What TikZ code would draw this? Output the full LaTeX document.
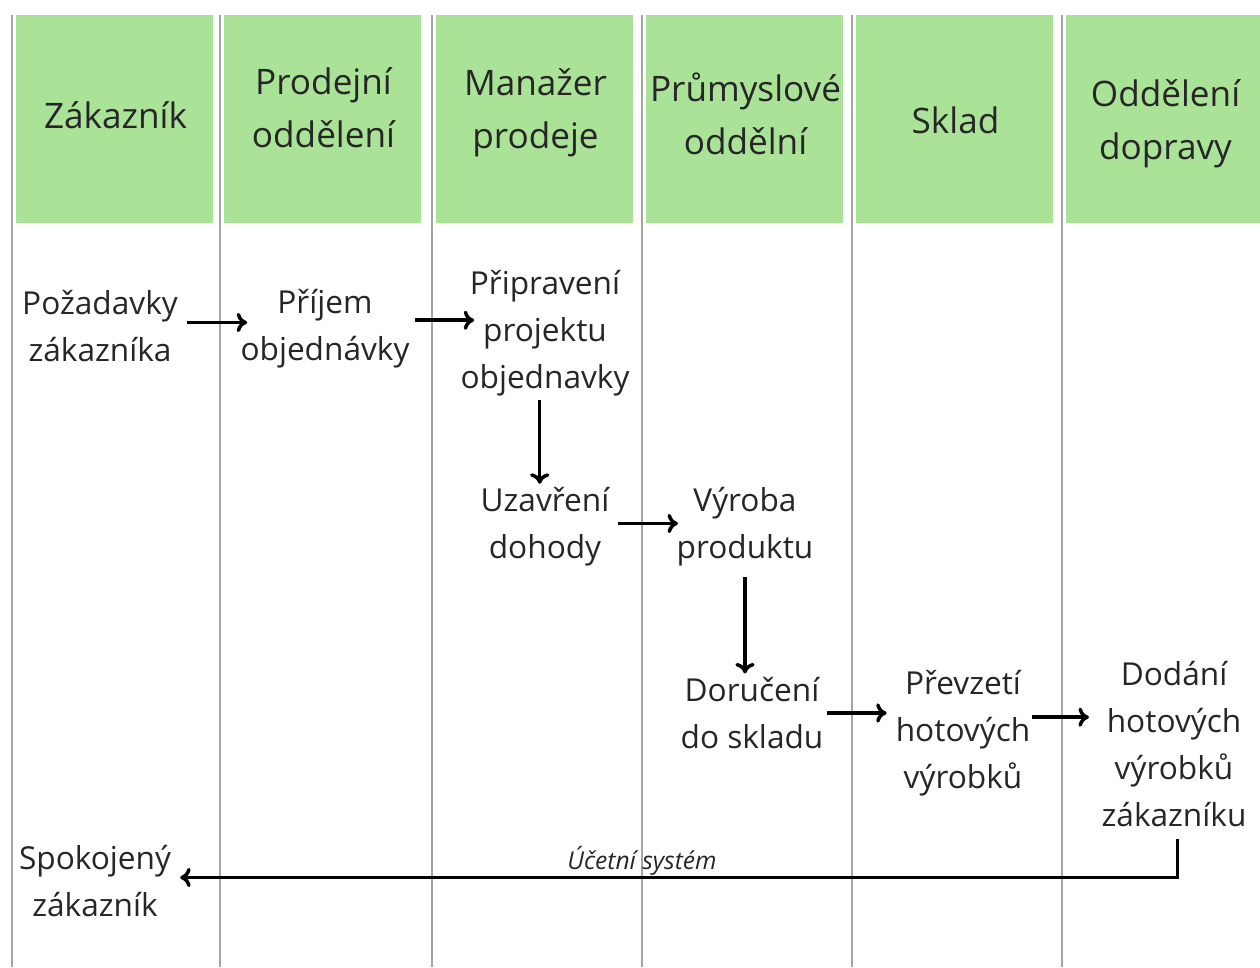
\documentclass[tikz,border=0pt]{standalone}
\usepackage{fontspec}
\setmainfont{Open Sans}
\usetikzlibrary{positioning,arrows.meta}

\definecolor{headgreen}{HTML}{AAE397}
\definecolor{lanegray}{HTML}{A4A4A4}
\definecolor{inkgray}{HTML}{262626}

\tikzset{
  lanelabel/.style={align=center, inner sep=0pt, text=inkgray,
    font=\fontsize{20}{30}\selectfont},
  laneline/.style={draw=lanegray, line width=1.1pt},
  task/.style={align=center, inner sep=2pt, text=inkgray,
    font=\fontsize{18}{26.7}\selectfont},
  flow/.style={-{To[length=6pt,width=11pt]}, line width=2pt},
}

\begin{document}
\begin{tikzpicture}[x=0.02cm,y=-0.02cm]
      \useasboundingbox (0,0) rectangle (1260,967);
      % swimlanes
      \foreach \x/\y/\t [count=\i] in {12/115/{Zákazník}, 220/108/{Prodejní\\oddělení},
          432/113/{Manažer\\prodeje}, 642/114/{Průmyslové\\oddělní}, 852/120/{Sklad},
          1062/124/{Oddělení\\dopravy}} {
        \draw[laneline] (\x,15) -- (\x,967);
        \fill[headgreen] (\x+4,15) rectangle ++(197,208);
        \node[lanelabel] (h\i) at (\x+103.5,\y) {\t};
      }
      % tasks
      \node[task] (pozadavky) at (100,326) {Požadavky\\zákazníka};
      \node[task] (prijem) at (325,329) {Příjem\\objednávky};
      \node[task] (priprava) at (545,333) {Připravení\\projektu\\objednavky};
      \node[task] (dohoda) at (545,527) {Uzavření\\dohody};
      \node[task] (vyroba) at (745,527) {Výroba\\produktu};
      \node[task] (doruceni) at (752,713) {Doručení\\do skladu};
      \node[task] (prevzeti) at (963,733) {Převzetí\\hotových\\výrobků};
      \node[task] (dodani) at (1174,744) {Dodání\\hotových\\výrobků\\zákazníku};
      \node[task] (spokojeny) at (95,881) {Spokojený\\zákazník};
      \node[text=inkgray, font=\fontsize{14}{16}\selectfont\itshape] (ucetni) at (642,861) {Účetní systém};
      % flows
      \draw[flow] ([xshift=3pt,yshift=2pt]pozadavky.east) -- ([xshift=6pt,yshift=2pt]prijem.west |- pozadavky.east);
      \draw[flow] ([xshift=1pt,yshift=5pt]prijem.east) -- ([xshift=10pt,yshift=5pt]prijem.east -| priprava.west);
      \draw[flow] ([xshift=-3pt]priprava.south) -- ([xshift=-3pt]dohoda.north);
      \draw[flow] ([xshift=3pt,yshift=2pt]dohoda.east) -- ([xshift=3pt,yshift=2pt]dohoda.east -| vyroba.west);
      \draw[flow] ([yshift=-4pt]vyroba.south) -- (vyroba.south |- doruceni.north);
      \draw[flow] (doruceni.east) -- ([xshift=-3pt]doruceni.east -| prevzeti.west);
      \draw[flow] ([xshift=-1pt,yshift=9pt]prevzeti.east) -- ([xshift=-5pt,yshift=9pt]prevzeti.east -| dodani.west);
      \draw[flow] ([xshift=2pt,yshift=-5pt]dodani.south) |- ([xshift=3pt,yshift=2pt]spokojeny.east);
\end{tikzpicture}
\end{document}
